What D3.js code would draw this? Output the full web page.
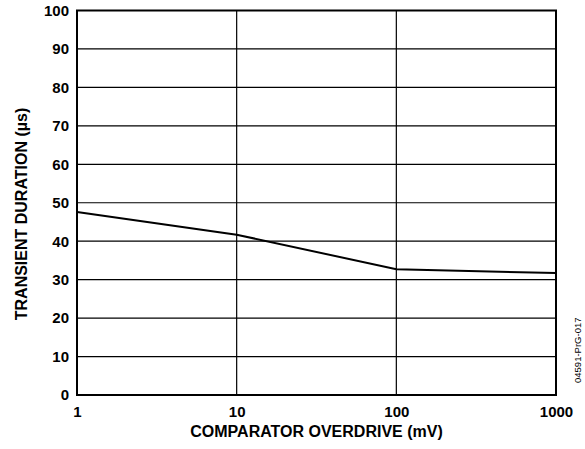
<!DOCTYPE html>
<html><head><meta charset="utf-8">
<script src="https://cdn.jsdelivr.net/npm/d3@7"></script>
<style>body{margin:0;background:#fff}</style>
</head><body>
<svg id="c" width="585" height="449"></svg>
<script>
const xValues = [1, 10, 100, 1000];
const yValues = [47.6, 41.7, 32.7, 31.7];
const xTicks = [1, 10, 100, 1000];
const yTicks = [0, 10, 20, 30, 40, 50, 60, 70, 80, 90, 100];

const svg = d3.select("#c");
const L = 77, R = 556, T = 10.5, B = 395;
const x = d3.scaleLog().domain([1, 1000]).range([L, R]);
const y = d3.scaleLinear().domain([0, 100]).range([B, T]);
const font = "'Liberation Sans', Arial, sans-serif";

const g = svg.append("g");
g.selectAll(".hg").data(yTicks).join("line")
  .attr("x1", L).attr("x2", R).attr("y1", d => y(d)).attr("y2", d => y(d))
  .attr("stroke", "#000").attr("stroke-width", 1.2);
g.selectAll(".vg").data(xTicks).join("line")
  .attr("y1", T).attr("y2", B).attr("x1", d => x(d)).attr("x2", d => x(d))
  .attr("stroke", "#000").attr("stroke-width", 1.2);
g.append("rect").attr("x", L).attr("y", T).attr("width", R - L).attr("height", B - T)
  .attr("fill", "none").attr("stroke", "#000").attr("stroke-width", 2);

const yAxis = d3.axisLeft(y).tickValues(yTicks).tickSize(0).tickPadding(8);
const ya = svg.append("g").attr("transform", `translate(${L},0)`).call(yAxis);
ya.select(".domain").remove();
ya.selectAll("text").attr("font-family", font).attr("font-weight", "bold").attr("font-size", 15).attr("fill", "#000");

const xAxis = d3.axisBottom(x).tickValues(xTicks).tickFormat(d3.format("d")).tickSize(0).tickPadding(0);
const xa = svg.append("g").attr("transform", `translate(0,${B})`).call(xAxis);
xa.select(".domain").remove();
xa.selectAll("text").attr("dy", null).attr("y", 22)
  .attr("font-family", font).attr("font-weight", "bold").attr("font-size", 15).attr("fill", "#000");

svg.append("path").datum(xValues.map((v, i) => [v, yValues[i]]))
  .attr("d", d3.line().x(d => x(d[0])).y(d => y(d[1])))
  .attr("fill", "none").attr("stroke", "#000").attr("stroke-width", 2);

svg.append("text").attr("x", 316.5).attr("y", 437).attr("text-anchor", "middle")
  .attr("font-family", font).attr("font-weight", "bold").attr("font-size", 16).text("COMPARATOR OVERDRIVE (mV)");
svg.append("text").attr("transform", `translate(27,214) rotate(-90)`).attr("text-anchor", "middle")
  .attr("font-family", font).attr("font-weight", "bold").attr("font-size", 16).text("TRANSIENT DURATION (µs)");
svg.append("text").attr("transform", `translate(581,383) rotate(-90)`).attr("text-anchor", "start")
  .attr("font-family", font).attr("font-size", 9.5).text("04591-PrG-017");
</script>
</body></html>
